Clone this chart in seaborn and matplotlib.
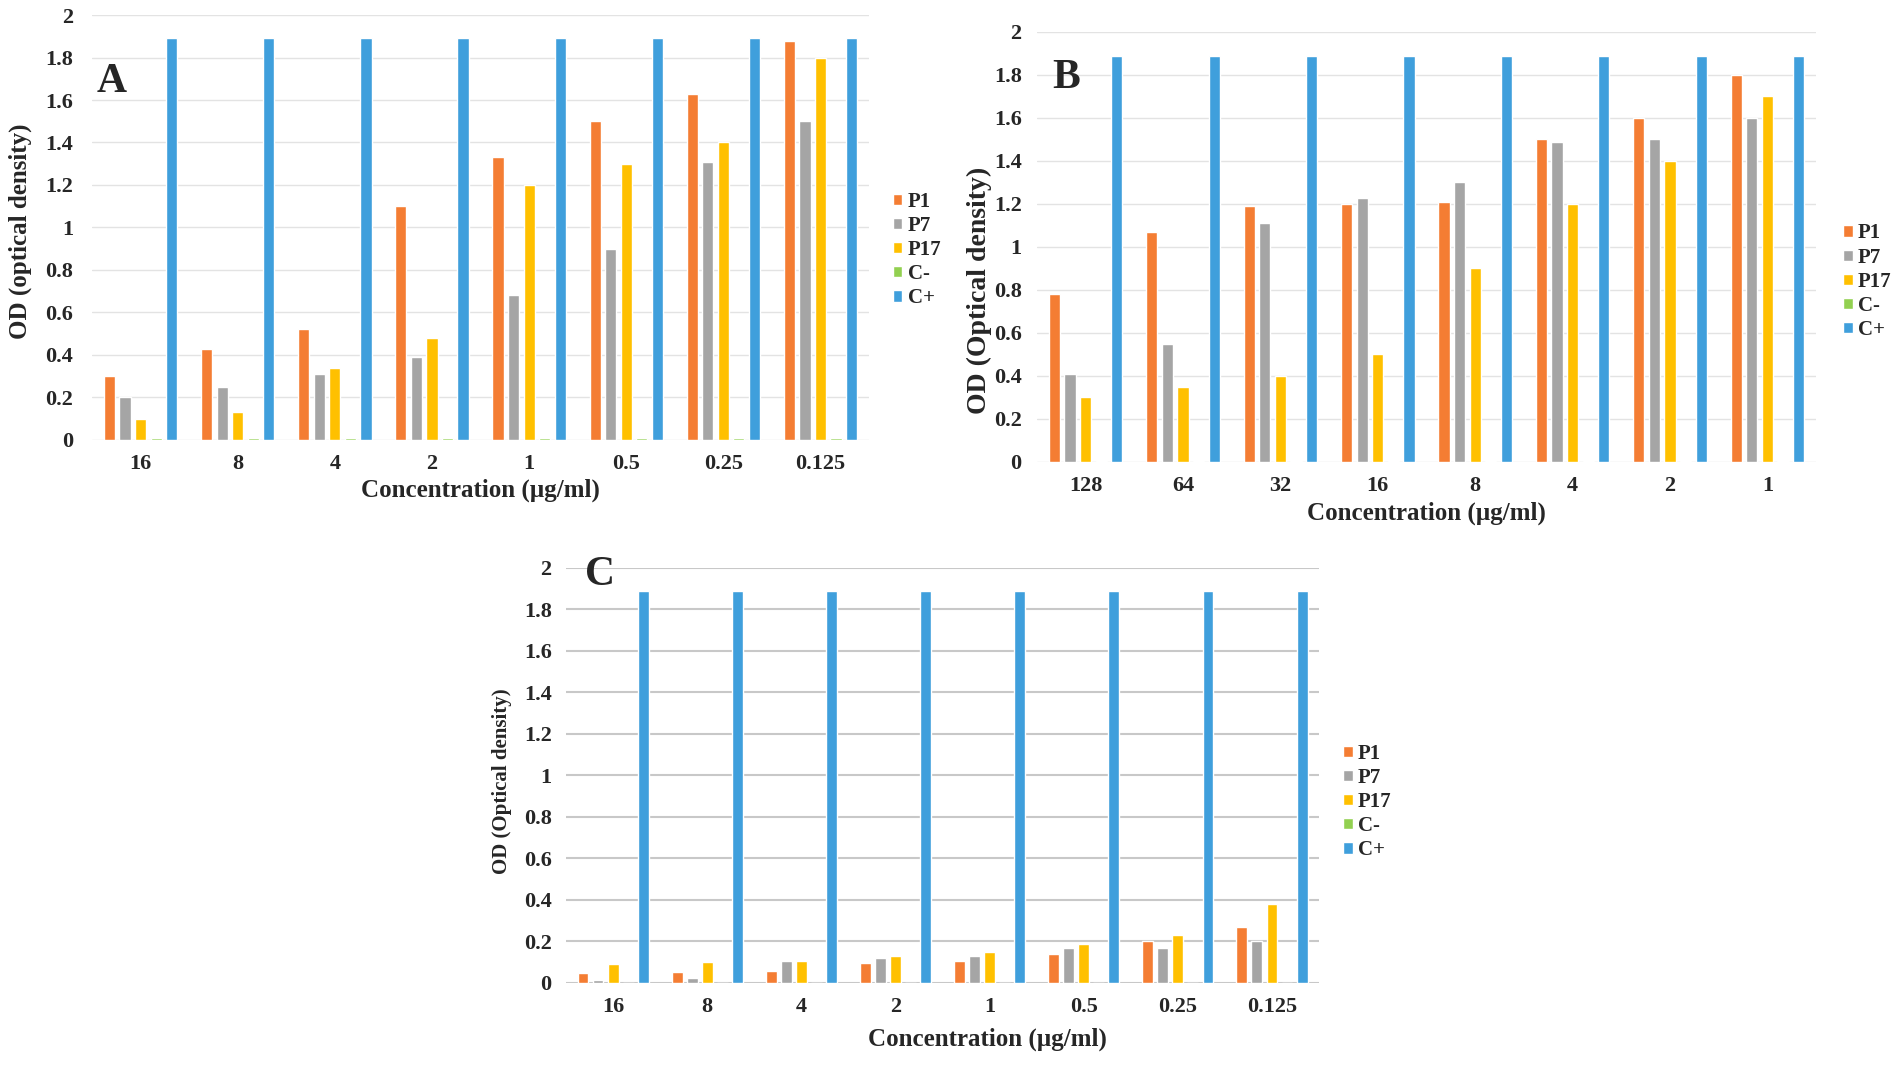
import pandas as pd
import matplotlib.pyplot as plt
import seaborn as sns
from matplotlib.ticker import FuncFormatter

# Panel A: concentrations and OD readings
conc_a = ['16', '8', '4', '2', '1', '0.5', '0.25', '0.125']
p1_a = [0.30, 0.43, 0.52, 1.10, 1.33, 1.50, 1.63, 1.88]
p7_a = [0.20, 0.25, 0.31, 0.39, 0.68, 0.90, 1.31, 1.50]
p17_a = [0.10, 0.13, 0.34, 0.48, 1.20, 1.30, 1.40, 1.80]
cneg_a = [0.01, 0.01, 0.01, 0.01, 0.01, 0.01, 0.01, 0.01]
cpos_a = [1.89, 1.89, 1.89, 1.89, 1.89, 1.89, 1.89, 1.89]

# Panel B
conc_b = ['128', '64', '32', '16', '8', '4', '2', '1']
p1_b = [0.78, 1.07, 1.19, 1.20, 1.21, 1.50, 1.60, 1.80]
p7_b = [0.41, 0.55, 1.11, 1.23, 1.30, 1.49, 1.50, 1.60]
p17_b = [0.30, 0.35, 0.40, 0.50, 0.90, 1.20, 1.40, 1.70]
cneg_b = [0.005, 0.005, 0.005, 0.005, 0.005, 0.005, 0.005, 0.005]
cpos_b = [1.89, 1.89, 1.89, 1.89, 1.89, 1.89, 1.89, 1.89]

# Panel C
conc_c = ['16', '8', '4', '2', '1', '0.5', '0.25', '0.125']
p1_c = [0.05, 0.055, 0.06, 0.095, 0.105, 0.14, 0.20, 0.27]
p7_c = [0.015, 0.025, 0.105, 0.12, 0.13, 0.17, 0.17, 0.20]
p17_c = [0.09, 0.10, 0.105, 0.13, 0.15, 0.19, 0.23, 0.38]
cneg_c = [0, 0, 0, 0, 0, 0, 0, 0]
cpos_c = [1.89, 1.89, 1.89, 1.89, 1.89, 1.89, 1.89, 1.89]

series = ['P1', 'P7', 'P17', 'C-', 'C+']
colors = ['#F47D33', '#A5A5A5', '#FFC000', '#92D050', '#3F9FDC']

sns.set_style('white')
plt.rcParams['font.family'] = ['Liberation Serif', 'DejaVu Serif']
plt.rcParams['font.weight'] = 'bold'


def long_df(conc, cols):
    rows = []
    for name, vals in zip(series, cols):
        for c, v in zip(conc, vals):
            rows.append({'conc': c, 'od': v, 'series': name})
    return pd.DataFrame(rows)


def draw(ax, conc, cols, letter, ylabel, ylab_size, grid_color, grid_lw, ypad,
         ylab_xy, letter_xy, leg_xy, xlab_x, xlab_y):
    df = long_df(conc, cols)
    sns.barplot(data=df, x='conc', y='od', hue='series', order=conc,
                hue_order=series, palette=colors, gap=0.28, ax=ax,
                saturation=1, errorbar=None)
    ax.set_ylim(0, 2)
    ax.set_xlim(-0.5, len(conc) - 0.5)
    ax.set_yticks([i * 0.2 for i in range(11)])
    ax.yaxis.set_major_formatter(FuncFormatter(lambda v, p: '%g' % round(v, 1)))
    ax.grid(axis='y', color=grid_color, lw=grid_lw)
    ax.set_axisbelow(True)
    for s in ax.spines.values():
        s.set_visible(False)
    ax.tick_params(axis='both', length=0, labelsize=16)
    ax.tick_params(axis='x', pad=10)
    ax.tick_params(axis='y', pad=ypad)
    ax.set_xlabel('Concentration (µg/ml)', fontsize=18, fontweight='bold')
    ax.xaxis.set_label_coords(xlab_x, xlab_y)
    ax.set_ylabel(ylabel, fontsize=ylab_size, fontweight='bold')
    ax.yaxis.set_label_coords(*ylab_xy)
    ax.text(letter_xy[0], letter_xy[1], letter, transform=ax.transAxes,
            fontsize=30, fontweight='bold', ha='left', va='center')
    ax.legend(loc='center left', bbox_to_anchor=leg_xy, frameon=False,
              handlelength=0.45, handleheight=0.45, handletextpad=0.25,
              labelspacing=0.2, borderpad=0, borderaxespad=0,
              prop={'size': 15, 'weight': 'bold'})


fig = plt.figure(figsize=(19.02, 10.65), dpi=100)
ax_a = fig.add_axes([0.0484, 0.5869, 0.4085, 0.399])
ax_b = fig.add_axes([0.5452, 0.5662, 0.4096, 0.4038])
ax_c = fig.add_axes([0.2976, 0.0770, 0.3959, 0.3897])

draw(ax_a, conc_a, [p1_a, p7_a, p17_a, cneg_a, cpos_a], 'A',
     'OD (optical density)', 18, '#e3e3e3', 1.0, 13.5,
     (-0.077, 0.49), (0.006, 0.842), (1.031, 0.447), 0.5, -0.09)
draw(ax_b, conc_b, [p1_b, p7_b, p17_b, cneg_b, cpos_b], 'B',
     'OD (Optical density)', 20, '#e3e3e3', 1.0, 11,
     (-0.058, 0.398), (0.019, 0.893), (1.035, 0.419), 0.5, -0.093)
draw(ax_c, conc_c, [p1_c, p7_c, p17_c, cneg_c, cpos_c], 'C',
     'OD (Optical density)', 15, '#c8c8c8', 1.5, 10.3,
     (-0.072, 0.487), (0.025, 0.983), (1.032, 0.436), 0.56, -0.108)

plt.savefig('out.png', dpi=100)
